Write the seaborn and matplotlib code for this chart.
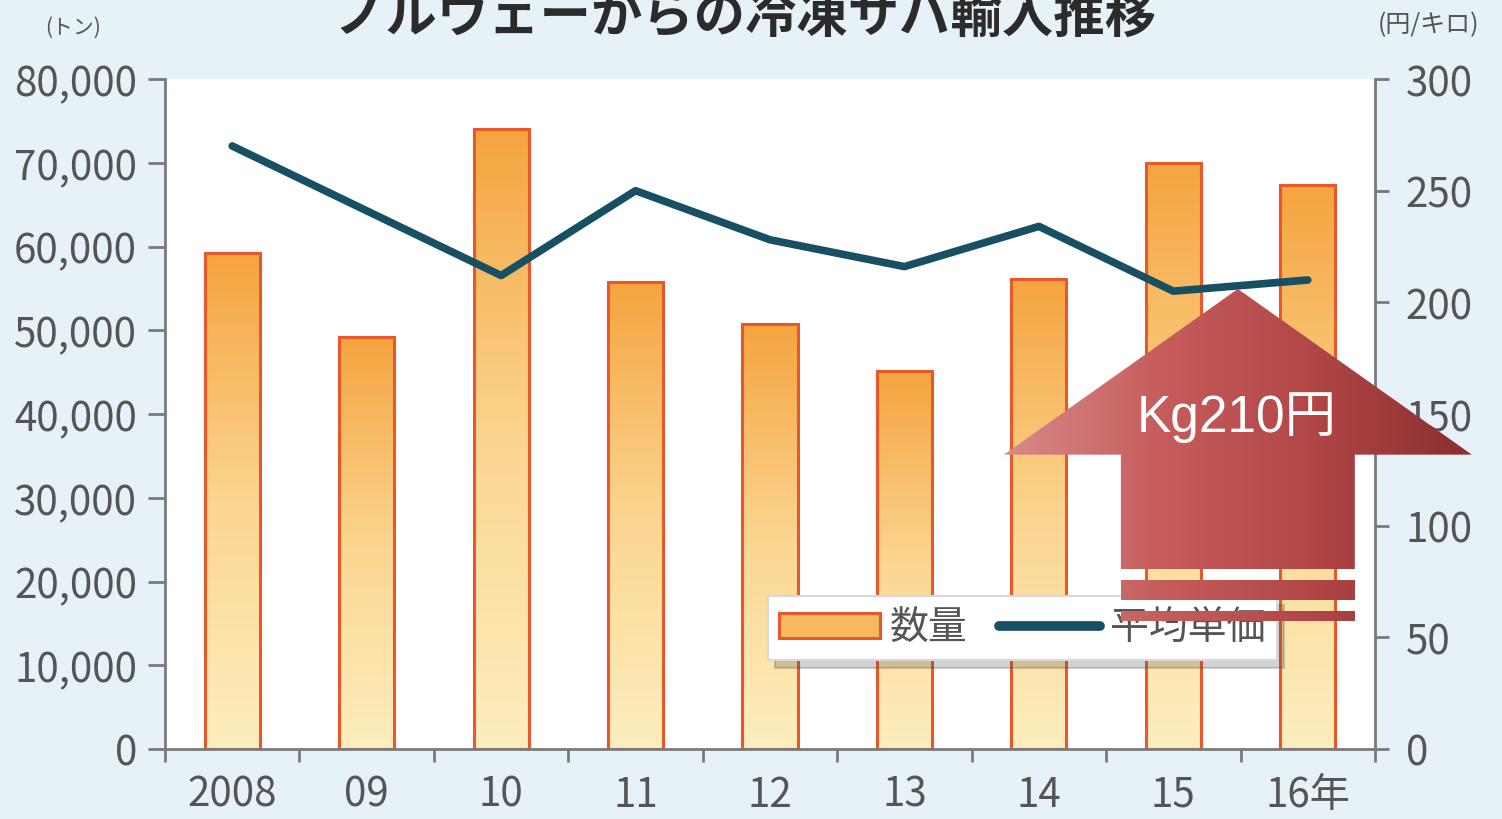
import numpy as np
import pandas as pd
import matplotlib
matplotlib.use("Agg")
import matplotlib.pyplot as plt
from matplotlib.patches import Patch, Polygon
from matplotlib.lines import Line2D
from matplotlib.colors import LinearSegmentedColormap
from matplotlib.ticker import FuncFormatter
import seaborn as sns

# data
years = ["2008", "09", "10", "11", "12", "13", "14", "15", "16年"]
volume = [59200, 49200, 74000, 55800, 50700, 45100, 56100, 70000, 67300]   # トン
price = [270, 241, 212, 250, 228, 216, 234, 205, 210]                     # 円/キロ
vol_ticks = [0, 10000, 20000, 30000, 40000, 50000, 60000, 70000, 80000]
price_ticks = [0, 50, 100, 150, 200, 250, 300]
title = "ノルウェーからの冷凍サバ輸入推移"
note = "Kg210円"

df = pd.DataFrame({"year": years, "volume": volume, "price": price})

sns.set_theme(style="white")
plt.rcParams["font.family"] = ["Noto Sans CJK JP", "DejaVu Sans"]

W, H = 1502, 820
fig = plt.figure(figsize=(W / 100, H / 100), dpi=100, facecolor="#e6f1f8")
ax = fig.add_axes([165 / W, 70 / H, 1210 / W, 670 / H])
ax.set_facecolor("white")

gray = "#7a7a7a"
txt = "#555555"

# bars with a vertical orange gradient
sns.barplot(data=df, x="year", y="volume", ax=ax, width=0.41, color="#f8b860",
            edgecolor="#e8582a", linewidth=2.2, saturation=1)
bar_cmap = LinearSegmentedColormap.from_list("bar", ["#fdeebe", "#fbd590", "#f5a43f"])
grad = np.linspace(0, 1, 256).reshape(-1, 1)
for p in list(ax.patches):
    x0, y0, w, h = p.get_x(), p.get_y(), p.get_width(), p.get_height()
    p.set_facecolor("none")
    p.set_zorder(2)
    im = ax.imshow(grad, cmap=bar_cmap, extent=[x0, x0 + w, y0, y0 + h],
                   origin="lower", aspect="auto", zorder=1.5, interpolation="bicubic")
    im.set_clip_path(p)

ax.set_xlim(-0.5, len(years) - 0.5)
ax.set_ylim(0, 80000)
ax.set_yticks(vol_ticks)
ax.yaxis.set_major_formatter(FuncFormatter(lambda v, _: f"{int(v):,}"))
ax.set_xticks(range(len(years)))
ax.set_xticklabels(years)
ax.set_xticks(np.arange(-0.5, len(years), 1), minor=True)
ax.set_xlabel("")
ax.set_ylabel("")

ax.tick_params(axis="y", left=True, length=12, width=2, color=gray,
               labelsize=29, labelcolor=txt, pad=8)
ax.tick_params(axis="x", which="major", bottom=True, length=0, labelsize=29,
               labelcolor=txt, pad=18)
ax.tick_params(axis="x", which="minor", bottom=True, length=9, width=2, color=gray)

for s in ["left", "bottom"]:
    ax.spines[s].set_color(gray)
    ax.spines[s].set_linewidth(2)
ax.spines["top"].set_visible(False)
ax.spines["right"].set_visible(False)

# price line on right axis
ax2 = ax.twinx()
sns.lineplot(x=np.arange(len(years)), y=price, ax=ax2, color="#174f63",
             linewidth=5.5, solid_capstyle="round")
ax2.set_xlim(-0.5, len(years) - 0.5)
ax2.set_ylim(0, 300)
ax2.set_yticks(price_ticks)
ax2.set_ylabel("")
ax2.tick_params(axis="y", right=True, length=10, width=2, color=gray,
                labelsize=29, labelcolor=txt, pad=12)
for s in ["left", "bottom", "top"]:
    ax2.spines[s].set_visible(False)
ax2.spines["right"].set_color(gray)
ax2.spines["right"].set_linewidth(2)

handles = [Patch(facecolor="#f8b860", edgecolor="#e8582a", linewidth=2.2),
           Line2D([], [], color="#174f63", linewidth=7, solid_capstyle="round")]
leg = ax2.legend(handles, ["数量", "平均単価"], ncol=2, loc="upper left",
                 bbox_to_anchor=(0.498, 0.228), borderaxespad=0, fontsize=28,
                 frameon=True, fancybox=False,
                 shadow={"ox": 5, "oy": -6, "alpha": 0.25},
                 handlelength=2.6, handleheight=0.6, columnspacing=0.8,
                 handletextpad=0.25, borderpad=0.3, edgecolor="#d8d8d8",
                 framealpha=1, labelcolor=txt)
leg.get_frame().set_linewidth(1.5)

# titles and units
fig.text(0.496, 1 - 33 / H, title, ha="center", va="baseline", fontsize=37,
         fontweight="bold", color="#2b2b2b")
fig.text(73 / W, 1 - 28 / H, "(トン)", ha="center", va="center", fontsize=15, color=txt)
fig.text(1428 / W, 1 - 25 / H, "(円/キロ)", ha="center", va="center", fontsize=18, color=txt)

# red arrow overlay (defined in price-axis coordinates)
tip = (7.48, 206)
head_l, head_r, head_base = 5.74, 9.22, 131.8
shaft_l, shaft_r, shaft_bot = 6.61, 8.35, 80.6
stripes = [(66.7, 75.7), (57.3, 61.8)]

ov = fig.add_axes([0, 0, 1, 1], zorder=10)
ov.set_xlim(0, W)
ov.set_ylim(0, H)
ov.axis("off")
ov.patch.set_alpha(0)


def to_px(pts):
    return ax2.transData.transform(np.array(pts))


arrow_pts = [(shaft_l, shaft_bot), (shaft_l, head_base), (head_l, head_base), tip,
             (head_r, head_base), (shaft_r, head_base), (shaft_r, shaft_bot)]
shapes = [arrow_pts] + [[(shaft_l, a), (shaft_l, b), (shaft_r, b), (shaft_r, a)]
                        for a, b in stripes]
arr_cmap = LinearSegmentedColormap.from_list("arr", ["#d88a8a", "#c65c5c", "#b04646", "#8a2e2e"])
hgrad = np.linspace(0, 1, 256).reshape(1, -1)
xl = to_px([(head_l, 0)])[0][0]
xr = to_px([(head_r, 0)])[0][0]
for sh in shapes:
    px = to_px(sh)
    poly = Polygon(px, closed=True, facecolor="none", edgecolor="none")
    ov.add_patch(poly)
    im = ov.imshow(hgrad, cmap=arr_cmap, extent=[xl, xr, px[:, 1].min(), px[:, 1].max()],
                   aspect="auto", origin="lower", zorder=2)
    im.set_clip_path(poly)
ov.set_xlim(0, W)
ov.set_ylim(0, H)

tx, ty = to_px([(7.47, 148.7)])[0]
ov.text(tx, ty, note, ha="center", va="center", fontsize=37, color="white",
        family=["Liberation Sans", "Noto Sans CJK JP"], zorder=3)

fig.savefig("out.png", dpi=100, facecolor=fig.get_facecolor())
